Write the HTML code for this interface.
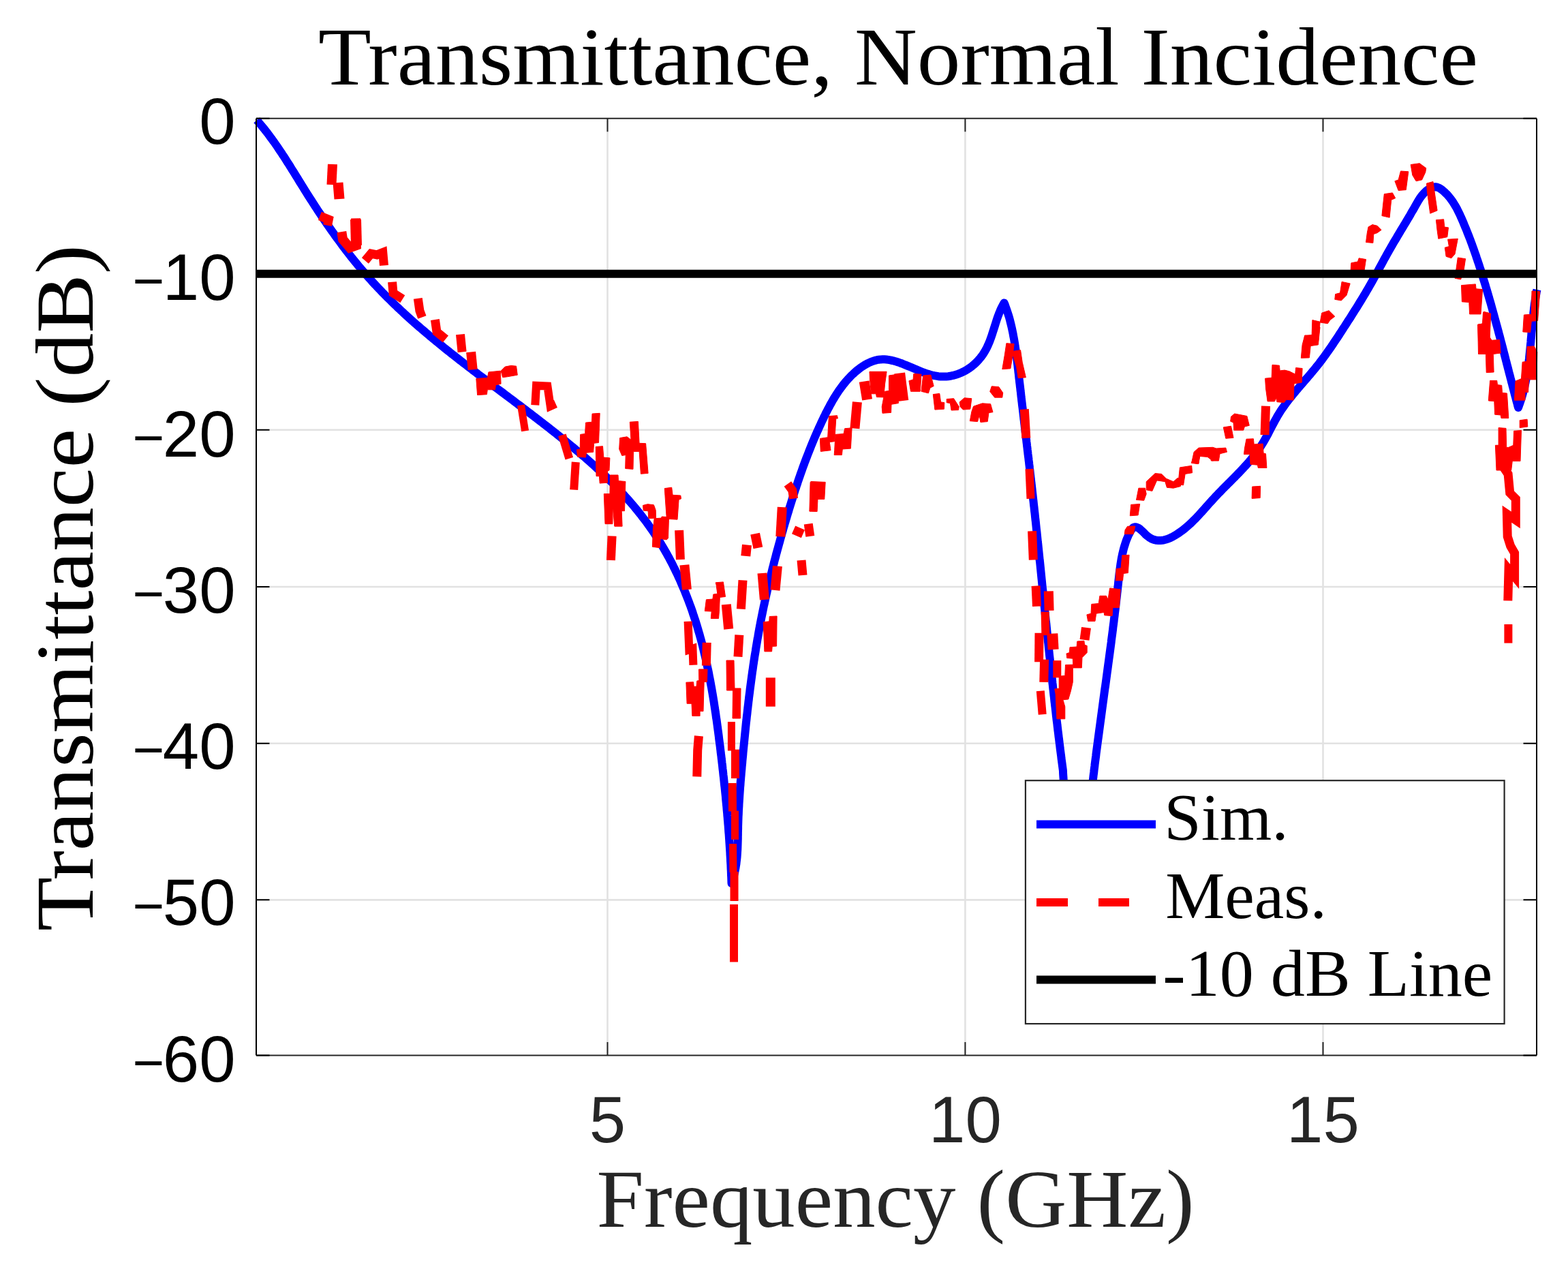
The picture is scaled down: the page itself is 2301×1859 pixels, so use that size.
<!DOCTYPE html>
<html><head><meta charset="utf-8"><title>Transmittance, Normal Incidence</title>
<style>
html,body{margin:0;padding:0;background:#fff;}
svg{display:block;}
.tk{font-family:"Liberation Sans",Arial,sans-serif;font-size:96px;}
.sf{font-family:"Liberation Serif","Times New Roman",serif;}
</style></head><body>
<svg width="2301" height="1859" viewBox="0 0 2301 1859">
<rect x="0" y="0" width="2301" height="1859" fill="#fff"/>
<!-- grid -->
<g id="grid" stroke="#e2e2e2" stroke-width="2.6" fill="none">
<path d="M891.5 174V1548M1416.4 174V1548M1941.5 174V1548"/>
<path d="M376 401.75H2255M376 630.7H2255M376 861.05H2255M376 1090.7H2255M376 1320.35H2255"/>
</g>
<!-- curves -->
<g id="curves">
<path d="M376.8 176.2 L378.8 178.4 L380.7 180.7 L382.6 183 L384.5 185.3 L386.4 187.6 L388.3 189.9 L390.1 192.3 L392 194.6 L393.8 197 L395.5 199.4 L397.3 201.8 L399.1 204.2 L400.8 206.6 L402.6 209 L404.3 211.5 L406 213.9 L407.7 216.4 L409.3 218.8 L411 221.3 L412.7 223.8 L414.3 226.3 L416 228.8 L417.6 231.3 L419.2 233.8 L420.8 236.4 L422.4 238.9 L424.1 241.4 L425.7 244 L427.2 246.5 L428.8 249.1 L430.4 251.6 L432 254.2 L433.6 256.7 L435.2 259.3 L436.8 261.8 L438.3 264.4 L439.9 267 L441.5 269.5 L443.1 272.1 L444.7 274.7 L446.3 277.2 L447.9 279.8 L449.5 282.4 L451.1 284.9 L452.7 287.5 L454.3 290 L456 292.6 L457.6 295.1 L459.2 297.7 L460.9 300.2 L462.5 302.7 L464.2 305.3 L465.8 307.8 L467.5 310.3 L469.2 312.9 L470.9 315.4 L472.5 317.9 L474.2 320.4 L475.9 322.9 L477.6 325.4 L479.3 327.9 L481.1 330.4 L482.8 332.9 L484.5 335.4 L486.3 337.8 L488 340.3 L489.8 342.8 L491.5 345.2 L493.3 347.7 L495.1 350.1 L496.9 352.6 L498.7 355 L500.5 357.4 L502.3 359.9 L504.1 362.3 L505.9 364.7 L507.7 367.1 L509.6 369.4 L511.4 371.8 L513.3 374.2 L515.1 376.6 L517 378.9 L518.9 381.3 L520.8 383.6 L522.7 385.9 L524.6 388.3 L526.5 390.6 L528.5 392.9 L530.4 395.2 L532.4 397.5 L534.3 399.7 L536.3 402 L538.3 404.2 L540.2 406.5 L542.2 408.7 L544.3 410.9 L546.3 413.2 L548.3 415.4 L550.3 417.6 L552.4 419.7 L554.4 421.9 L556.5 424.1 L558.6 426.2 L560.6 428.4 L562.7 430.5 L564.8 432.7 L566.9 434.8 L569 436.9 L571.2 439 L573.3 441.1 L575.4 443.2 L577.6 445.3 L579.7 447.4 L581.9 449.4 L584 451.5 L586.2 453.5 L588.4 455.6 L590.6 457.6 L592.8 459.7 L595 461.7 L597.2 463.7 L599.4 465.7 L601.6 467.7 L603.8 469.7 L606.1 471.7 L608.3 473.7 L610.6 475.7 L612.8 477.6 L615.1 479.6 L617.3 481.5 L619.6 483.5 L621.9 485.4 L624.2 487.4 L626.5 489.3 L628.8 491.3 L631 493.2 L633.4 495.1 L635.7 497 L638 498.9 L640.3 500.8 L642.6 502.7 L644.9 504.6 L647.3 506.5 L649.6 508.4 L651.9 510.3 L654.3 512.2 L656.6 514.1 L659 515.9 L661.3 517.8 L663.7 519.7 L666.1 521.5 L668.4 523.4 L670.8 525.3 L673.2 527.1 L675.5 529 L677.9 530.8 L680.3 532.7 L682.7 534.5 L685.1 536.3 L687.4 538.2 L689.8 540 L692.2 541.8 L694.6 543.7 L697 545.5 L699.4 547.3 L701.8 549.2 L704.2 551 L706.6 552.8 L709 554.6 L711.4 556.4 L713.9 558.3 L716.3 560.1 L718.7 561.9 L721.1 563.7 L723.5 565.5 L725.9 567.4 L728.3 569.2 L730.7 571 L733.2 572.8 L735.6 574.6 L738 576.4 L740.4 578.2 L742.8 580.1 L745.3 581.9 L747.7 583.7 L750.1 585.5 L752.5 587.3 L754.9 589.1 L757.3 591 L759.8 592.8 L762.2 594.6 L764.6 596.4 L767 598.3 L769.4 600.1 L771.8 601.9 L774.2 603.7 L776.6 605.6 L779 607.4 L781.4 609.2 L783.8 611.1 L786.2 612.9 L788.6 614.8 L791 616.6 L793.4 618.5 L795.8 620.3 L798.2 622.2 L800.6 624 L803 625.9 L805.4 627.7 L807.7 629.6 L810.1 631.5 L812.5 633.4 L814.9 635.2 L817.2 637.1 L819.6 639 L821.9 640.9 L824.3 642.8 L826.7 644.7 L829 646.6 L831.3 648.5 L833.7 650.4 L836 652.3 L838.4 654.3 L840.7 656.2 L843 658.1 L845.3 660.1 L847.6 662 L849.9 664 L852.2 665.9 L854.5 667.9 L856.8 669.8 L859.1 671.8 L861.3 673.8 L863.6 675.8 L865.9 677.8 L868.1 679.8 L870.4 681.8 L872.6 683.8 L874.8 685.8 L877 687.9 L879.2 689.9 L881.4 692 L883.6 694 L885.8 696.1 L888 698.2 L890.1 700.2 L892.3 702.3 L894.4 704.4 L896.6 706.5 L898.7 708.6 L900.8 710.8 L902.9 712.9 L905 715 L907 717.2 L909.1 719.4 L911.2 721.5 L913.2 723.7 L915.2 725.9 L917.2 728.1 L919.3 730.3 L921.2 732.5 L923.2 734.8 L925.2 737 L927.1 739.3 L929.1 741.5 L931 743.8 L932.9 746.1 L934.8 748.4 L936.7 750.7 L938.5 753 L940.4 755.4 L942.2 757.7 L944 760.1 L945.9 762.5 L947.6 764.8 L949.4 767.2 L951.2 769.7 L952.9 772.1 L954.6 774.5 L956.3 777 L958 779.4 L959.7 781.9 L961.4 784.4 L963 786.9 L964.6 789.4 L966.2 791.9 L967.8 794.5 L969.4 797 L970.9 799.6 L972.5 802.2 L974 804.8 L975.5 807.3 L977 810 L978.5 812.6 L979.9 815.2 L981.4 817.8 L982.8 820.5 L984.2 823.1 L985.6 825.8 L987 828.5 L988.3 831.2 L989.7 833.9 L991 836.6 L992.3 839.3 L993.6 842 L994.9 844.8 L996.1 847.5 L997.4 850.2 L998.6 853 L999.8 855.8 L1001 858.5 L1002.2 861.3 L1003.4 864.1 L1004.6 866.9 L1005.7 869.7 L1006.8 872.5 L1007.9 875.3 L1009 878.1 L1010.1 880.9 L1011.2 883.8 L1012.2 886.6 L1013.3 889.4 L1014.3 892.3 L1015.3 895.1 L1016.3 898 L1017.2 900.9 L1018.2 903.7 L1019.1 906.6 L1020.1 909.5 L1021 912.3 L1021.9 915.2 L1022.8 918.1 L1023.6 921 L1024.5 923.9 L1025.3 926.8 L1026.2 929.7 L1027 932.6 L1027.8 935.5 L1028.6 938.4 L1029.4 941.3 L1030.1 944.2 L1030.9 947.1 L1031.6 950 L1032.3 953 L1033 955.9 L1033.7 958.8 L1034.4 961.7 L1035.1 964.7 L1035.8 967.6 L1036.4 970.5 L1037.1 973.5 L1037.7 976.4 L1038.3 979.4 L1039 982.3 L1039.6 985.3 L1040.2 988.2 L1040.7 991.2 L1041.3 994.1 L1041.9 997.1 L1042.4 1000 L1043 1003 L1043.5 1006 L1044.1 1008.9 L1044.6 1011.9 L1045.1 1014.9 L1045.6 1017.8 L1046.1 1020.8 L1046.6 1023.8 L1047.1 1026.7 L1047.6 1029.7 L1048 1032.7 L1048.5 1035.7 L1048.9 1038.7 L1049.4 1041.6 L1049.8 1044.6 L1050.3 1047.6 L1050.7 1050.6 L1051.1 1053.6 L1051.6 1056.5 L1052 1059.5 L1052.4 1062.5 L1052.8 1065.5 L1053.2 1068.5 L1053.6 1071.5 L1054 1074.4 L1054.4 1077.4 L1054.8 1080.4 L1055.1 1083.4 L1055.5 1086.4 L1055.9 1089.4 L1056.3 1092.4 L1056.7 1095.4 L1057 1098.3 L1057.4 1101.3 L1057.7 1104.3 L1058.1 1107.3 L1058.5 1110.3 L1058.8 1113.3 L1059.2 1116.3 L1059.5 1119.2 L1059.9 1122.2 L1060.2 1125.2 L1060.5 1128.2 L1060.9 1131.2 L1061.2 1134.2 L1061.5 1137.2 L1061.9 1140.2 L1062.2 1143.1 L1062.5 1146.1 L1062.8 1149.1 L1063.1 1152.1 L1063.5 1155.1 L1063.8 1158.1 L1064.1 1161.1 L1064.4 1164.1 L1064.7 1167 L1065 1170 L1065.2 1173 L1065.5 1176 L1065.8 1179 L1066.1 1182 L1066.4 1185 L1066.6 1188 L1066.9 1191 L1067.2 1194 L1067.4 1197 L1067.7 1199.9 L1067.9 1202.9 L1068.2 1205.9 L1068.4 1208.9 L1068.7 1211.9 L1068.9 1214.9 L1069.1 1217.9 L1069.3 1220.9 L1069.6 1223.9 L1069.8 1226.9 L1070 1229.9 L1070.2 1232.9 L1070.4 1235.9 L1070.6 1238.9 L1070.8 1241.9 L1071 1244.9 L1071.2 1247.9 L1071.4 1250.9 L1071.5 1253.9 L1071.7 1256.9 L1071.9 1259.9 L1072 1262.9 L1072.2 1265.9 L1072.4 1268.9 L1072.5 1271.9 L1072.6 1274.9 L1072.8 1277.9 L1072.9 1280.9 L1073 1284 L1073.2 1287 L1073.3 1290 L1073.4 1293 L1073.5 1296 L1074.5 1293.2 L1075.4 1290.3 L1076.3 1287.4 L1077.1 1284.5 L1077.8 1281.6 L1078.4 1278.7 L1079 1275.8 L1079.6 1272.8 L1080 1269.9 L1080.5 1266.9 L1080.8 1264 L1081.2 1261 L1081.5 1258 L1081.7 1255 L1081.9 1252 L1082.1 1249 L1082.3 1246 L1082.4 1243 L1082.5 1240 L1082.6 1236.9 L1082.7 1233.9 L1082.8 1230.9 L1082.8 1227.9 L1082.9 1224.8 L1082.9 1221.8 L1083 1218.8 L1083.1 1215.7 L1083.1 1212.7 L1083.2 1209.7 L1083.3 1206.7 L1083.4 1203.6 L1083.5 1200.6 L1083.6 1197.6 L1083.8 1194.6 L1083.9 1191.6 L1084 1188.5 L1084.2 1185.5 L1084.4 1182.5 L1084.5 1179.5 L1084.7 1176.5 L1084.9 1173.5 L1085.1 1170.5 L1085.3 1167.4 L1085.5 1164.4 L1085.7 1161.4 L1085.9 1158.4 L1086.1 1155.4 L1086.4 1152.4 L1086.6 1149.4 L1086.8 1146.4 L1087.1 1143.4 L1087.3 1140.4 L1087.6 1137.4 L1087.8 1134.4 L1088.1 1131.4 L1088.4 1128.4 L1088.6 1125.4 L1088.9 1122.4 L1089.2 1119.4 L1089.4 1116.4 L1089.7 1113.4 L1090 1110.4 L1090.3 1107.4 L1090.5 1104.4 L1090.8 1101.4 L1091.1 1098.4 L1091.4 1095.4 L1091.7 1092.4 L1092 1089.4 L1092.3 1086.4 L1092.6 1083.4 L1092.9 1080.4 L1093.2 1077.4 L1093.5 1074.4 L1093.8 1071.4 L1094.1 1068.4 L1094.4 1065.4 L1094.7 1062.4 L1095 1059.4 L1095.4 1056.4 L1095.7 1053.4 L1096 1050.4 L1096.4 1047.4 L1096.7 1044.5 L1097 1041.5 L1097.4 1038.5 L1097.7 1035.5 L1098.1 1032.5 L1098.4 1029.5 L1098.8 1026.5 L1099.1 1023.5 L1099.5 1020.5 L1099.9 1017.5 L1100.3 1014.5 L1100.6 1011.6 L1101 1008.6 L1101.4 1005.6 L1101.8 1002.6 L1102.2 999.6 L1102.6 996.6 L1103 993.6 L1103.4 990.6 L1103.8 987.7 L1104.2 984.7 L1104.7 981.7 L1105.1 978.7 L1105.5 975.7 L1106 972.8 L1106.4 969.8 L1106.9 966.8 L1107.3 963.8 L1107.8 960.8 L1108.3 957.9 L1108.8 954.9 L1109.2 951.9 L1109.7 948.9 L1110.2 946 L1110.7 943 L1111.2 940 L1111.7 937 L1112.3 934.1 L1112.8 931.1 L1113.3 928.1 L1113.8 925.2 L1114.4 922.2 L1114.9 919.2 L1115.5 916.3 L1116.1 913.3 L1116.6 910.3 L1117.2 907.4 L1117.8 904.4 L1118.4 901.5 L1119 898.5 L1119.6 895.5 L1120.2 892.6 L1120.8 889.6 L1121.5 886.7 L1122.1 883.7 L1122.8 880.8 L1123.4 877.8 L1124.1 874.9 L1124.7 871.9 L1125.4 869 L1126 866 L1126.7 863.1 L1127.4 860.1 L1128.1 857.2 L1128.8 854.2 L1129.5 851.3 L1130.2 848.4 L1130.9 845.4 L1131.6 842.5 L1132.4 839.6 L1133.1 836.6 L1133.8 833.7 L1134.6 830.8 L1135.3 827.9 L1136.1 824.9 L1136.8 822 L1137.6 819.1 L1138.4 816.2 L1139.1 813.2 L1139.9 810.3 L1140.7 807.4 L1141.5 804.5 L1142.3 801.6 L1143.1 798.7 L1143.9 795.8 L1144.7 792.9 L1145.5 790 L1146.3 787.1 L1147.1 784.2 L1147.9 781.3 L1148.8 778.4 L1149.6 775.5 L1150.4 772.6 L1151.3 769.7 L1152.1 766.9 L1153 764 L1153.8 761.1 L1154.7 758.2 L1155.5 755.3 L1156.4 752.5 L1157.3 749.6 L1158.1 746.7 L1159 743.9 L1159.9 741 L1160.8 738.2 L1161.7 735.3 L1162.6 732.4 L1163.5 729.6 L1164.4 726.7 L1165.3 723.9 L1166.2 721 L1167.1 718.2 L1168.1 715.4 L1169 712.5 L1170 709.7 L1170.9 706.8 L1171.9 704 L1172.8 701.2 L1173.8 698.4 L1174.8 695.5 L1175.8 692.7 L1176.8 689.9 L1177.8 687.1 L1178.8 684.2 L1179.9 681.4 L1180.9 678.6 L1182 675.8 L1183 673 L1184.1 670.2 L1185.2 667.4 L1186.3 664.6 L1187.4 661.8 L1188.5 659 L1189.6 656.2 L1190.7 653.4 L1191.9 650.6 L1193 647.8 L1194.2 645 L1195.4 642.2 L1196.6 639.4 L1197.8 636.6 L1199 633.8 L1200.3 631.1 L1201.5 628.3 L1202.8 625.5 L1204.1 622.7 L1205.3 620 L1206.6 617.2 L1208 614.4 L1209.3 611.6 L1210.7 608.9 L1212 606.1 L1213.4 603.4 L1214.8 600.6 L1216.3 597.9 L1217.7 595.2 L1219.2 592.5 L1220.7 589.8 L1222.2 587.1 L1223.8 584.5 L1225.4 581.9 L1227 579.3 L1228.7 576.7 L1230.4 574.2 L1232.1 571.7 L1233.9 569.2 L1235.7 566.8 L1237.5 564.4 L1239.4 562.1 L1241.3 559.7 L1243.3 557.5 L1245.3 555.3 L1247.4 553.1 L1249.5 550.9 L1251.7 548.9 L1253.9 546.8 L1256.1 544.9 L1258.4 543 L1260.8 541.1 L1263.2 539.3 L1265.7 537.6 L1268.2 536 L1270.8 534.5 L1273.4 533.1 L1276 531.9 L1278.7 530.7 L1281.3 529.8 L1284.1 528.9 L1286.8 528.2 L1289.6 527.7 L1292.3 527.4 L1295.1 527.3 L1297.9 527.3 L1300.8 527.5 L1303.6 527.9 L1306.4 528.4 L1309.3 529 L1312.2 529.7 L1315.1 530.5 L1318 531.4 L1320.9 532.5 L1323.8 533.5 L1326.7 534.7 L1329.6 535.9 L1332.6 537.1 L1335.5 538.3 L1338.5 539.6 L1341.4 540.8 L1344.4 542.1 L1347.3 543.3 L1350.3 544.5 L1353.3 545.7 L1356.2 546.8 L1359.2 547.9 L1362.1 548.8 L1365.1 549.7 L1368.1 550.5 L1371 551.2 L1374 551.7 L1376.9 552.2 L1379.9 552.4 L1382.8 552.6 L1385.7 552.6 L1388.6 552.4 L1391.5 552.2 L1394.4 551.8 L1397.2 551.2 L1400.1 550.6 L1402.8 549.8 L1405.6 548.9 L1408.3 547.8 L1411 546.7 L1413.6 545.4 L1416.2 544.1 L1418.7 542.6 L1421.2 541 L1423.6 539.3 L1426 537.6 L1428.3 535.7 L1430.5 533.7 L1432.7 531.7 L1434.8 529.6 L1436.8 527.3 L1438.7 525 L1440.5 522.7 L1442.3 520.2 L1443.9 517.7 L1445.5 515.1 L1447 512.4 L1448.4 509.7 L1449.7 506.9 L1450.9 504.1 L1452.1 501.3 L1453.2 498.4 L1454.3 495.4 L1455.3 492.5 L1456.3 489.5 L1457.2 486.5 L1458.2 483.5 L1459.1 480.6 L1460.1 477.6 L1461 474.6 L1461.9 471.7 L1462.9 468.7 L1463.9 465.8 L1464.9 463 L1466 460.1 L1467.1 457.4 L1468.2 454.6 L1469.5 452 L1470.8 449.4 L1472.1 446.9 L1473.6 444.4 L1474.7 447.1 L1475.7 449.9 L1476.7 452.7 L1477.7 455.5 L1478.6 458.3 L1479.5 461.1 L1480.4 463.9 L1481.2 466.7 L1482 469.6 L1482.7 472.5 L1483.4 475.3 L1484.1 478.2 L1484.8 481.1 L1485.4 484 L1486 486.9 L1486.6 489.8 L1487.1 492.8 L1487.7 495.7 L1488.2 498.6 L1488.7 501.6 L1489.2 504.5 L1489.6 507.5 L1490.1 510.5 L1490.5 513.4 L1490.9 516.4 L1491.3 519.4 L1491.7 522.4 L1492.1 525.4 L1492.4 528.3 L1492.8 531.3 L1493.1 534.3 L1493.5 537.3 L1493.8 540.3 L1494.2 543.3 L1494.5 546.3 L1494.9 549.3 L1495.2 552.3 L1495.5 555.3 L1495.9 558.3 L1496.2 561.3 L1496.6 564.3 L1496.9 567.3 L1497.3 570.3 L1497.6 573.3 L1498 576.3 L1498.3 579.3 L1498.6 582.3 L1499 585.3 L1499.3 588.3 L1499.7 591.3 L1500 594.3 L1500.4 597.3 L1500.8 600.3 L1501.1 603.3 L1501.5 606.3 L1501.8 609.3 L1502.2 612.3 L1502.5 615.3 L1502.9 618.3 L1503.2 621.3 L1503.6 624.3 L1503.9 627.3 L1504.3 630.3 L1504.6 633.3 L1505 636.3 L1505.4 639.3 L1505.7 642.2 L1506.1 645.2 L1506.4 648.2 L1506.8 651.2 L1507.1 654.2 L1507.5 657.2 L1507.8 660.2 L1508.2 663.2 L1508.5 666.2 L1508.9 669.2 L1509.3 672.2 L1509.6 675.2 L1510 678.2 L1510.3 681.2 L1510.7 684.2 L1511 687.2 L1511.4 690.1 L1511.7 693.1 L1512 696.1 L1512.4 699.1 L1512.7 702.1 L1513.1 705.1 L1513.4 708.1 L1513.8 711.1 L1514.1 714.1 L1514.5 717.1 L1514.8 720.1 L1515.1 723.1 L1515.5 726.1 L1515.8 729.1 L1516.1 732.1 L1516.5 735.1 L1516.8 738 L1517.1 741 L1517.5 744 L1517.8 747 L1518.1 750 L1518.5 753 L1518.8 756 L1519.1 759 L1519.4 762 L1519.8 765 L1520.1 768 L1520.4 771 L1520.7 774 L1521 777 L1521.4 780 L1521.7 783 L1522 786 L1522.3 789 L1522.6 792 L1522.9 795 L1523.3 798 L1523.6 801 L1523.9 804 L1524.2 807 L1524.5 809.9 L1524.8 812.9 L1525.1 815.9 L1525.4 818.9 L1525.7 821.9 L1526.1 824.9 L1526.4 827.9 L1526.7 830.9 L1527 833.9 L1527.3 836.9 L1527.6 839.9 L1527.9 842.9 L1528.2 845.9 L1528.5 848.9 L1528.8 851.9 L1529.1 854.9 L1529.4 857.9 L1529.7 860.9 L1530 863.9 L1530.4 866.9 L1530.7 869.9 L1531 872.9 L1531.3 875.9 L1531.6 878.9 L1531.9 881.9 L1532.2 884.9 L1532.5 887.9 L1532.8 890.9 L1533.1 893.9 L1533.4 896.9 L1533.7 899.9 L1534 902.9 L1534.3 905.9 L1534.6 908.9 L1534.9 911.9 L1535.3 914.8 L1535.6 917.8 L1535.9 920.8 L1536.2 923.8 L1536.5 926.8 L1536.8 929.8 L1537.1 932.8 L1537.4 935.8 L1537.7 938.8 L1538 941.8 L1538.4 944.8 L1538.7 947.8 L1539 950.8 L1539.3 953.8 L1539.6 956.8 L1539.9 959.8 L1540.2 962.8 L1540.6 965.8 L1540.9 968.8 L1541.2 971.8 L1541.5 974.8 L1541.8 977.8 L1542.2 980.8 L1542.5 983.8 L1542.8 986.8 L1543.1 989.8 L1543.5 992.8 L1543.8 995.7 L1544.1 998.7 L1544.4 1001.7 L1544.8 1004.7 L1545.1 1007.7 L1545.4 1010.7 L1545.8 1013.7 L1546.1 1016.7 L1546.4 1019.7 L1546.8 1022.7 L1547.1 1025.7 L1547.4 1028.7 L1547.8 1031.7 L1548.1 1034.7 L1548.5 1037.7 L1548.8 1040.7 L1549.2 1043.7 L1549.5 1046.7 L1549.8 1049.6 L1550.2 1052.6 L1550.5 1055.6 L1550.9 1058.6 L1551.3 1061.6 L1551.6 1064.6 L1552 1067.6 L1552.3 1070.6 L1552.7 1073.6 L1553.1 1076.6 L1553.4 1079.6 L1553.8 1082.6 L1554.2 1085.6 L1554.5 1088.5 L1554.9 1091.5 L1555.3 1094.5 L1555.6 1097.5 L1556 1100.5 L1556.4 1103.5 L1556.8 1106.5 L1557.2 1109.5 L1557.5 1112.5 L1557.9 1115.5 L1558.3 1118.4 L1558.7 1121.4 L1559.1 1124.4 L1559.5 1127.4 L1559.9 1130.4 L1560 1132.8 L1560.1 1135.4 L1560.3 1138.2 L1560.5 1141.2 L1560.7 1144.3 L1560.9 1147.6 L1561.2 1151.1 L1561.4 1154.7 L1561.8 1158.3 L1562.1 1162.1 L1562.4 1166 L1562.8 1169.9 L1563.2 1173.9 L1563.6 1178 L1564.1 1182 L1564.5 1186.1 L1565 1190.2 L1565.5 1194.2 L1566 1198.2 L1566.6 1202.2 L1567.1 1206.1 L1567.7 1209.9 L1568.3 1213.6 L1568.9 1217.3 L1569.5 1220.8 L1570.1 1224.1 L1570.8 1227.4 L1571.4 1230.4 L1572.1 1233.3 L1572.8 1236 L1573.5 1238.5 L1574.2 1240.7 L1574.9 1242.7 L1575.7 1244.5 L1576.4 1246 L1577.2 1247.2 L1577.9 1248.1 L1578.7 1248.8 L1579.5 1249 L1580.2 1249 L1581 1248.6 L1581.8 1247.9 L1582.6 1246.9 L1583.4 1245.5 L1584.2 1243.9 L1585 1242 L1585.8 1239.9 L1586.6 1237.6 L1587.4 1235 L1588.2 1232.2 L1589 1229.3 L1589.8 1226.2 L1590.6 1222.9 L1591.4 1219.5 L1592.1 1215.9 L1592.9 1212.3 L1593.6 1208.6 L1594.3 1204.8 L1595.1 1200.9 L1595.8 1197 L1596.4 1193.1 L1597.1 1189.2 L1597.8 1185.3 L1598.4 1181.4 L1599 1177.6 L1599.6 1173.8 L1600.2 1170 L1600.7 1166.4 L1601.2 1162.9 L1601.7 1159.5 L1602.2 1156.2 L1602.6 1153.1 L1603.1 1150.1 L1603.4 1147.4 L1603.8 1144.8 L1604.2 1141.8 L1604.5 1138.8 L1604.9 1135.8 L1605.3 1132.7 L1605.6 1129.7 L1606 1126.7 L1606.4 1123.7 L1606.7 1120.7 L1607.1 1117.7 L1607.5 1114.7 L1607.9 1111.7 L1608.3 1108.7 L1608.6 1105.7 L1609 1102.8 L1609.4 1099.8 L1609.8 1096.8 L1610.2 1093.8 L1610.6 1090.8 L1611 1087.8 L1611.4 1084.8 L1611.8 1081.9 L1612.2 1078.9 L1612.6 1075.9 L1613 1072.9 L1613.4 1069.9 L1613.8 1067 L1614.2 1064 L1614.6 1061 L1615 1058 L1615.4 1055.1 L1615.8 1052.1 L1616.2 1049.1 L1616.6 1046.2 L1617 1043.2 L1617.4 1040.2 L1617.8 1037.3 L1618.2 1034.3 L1618.6 1031.3 L1619 1028.4 L1619.4 1025.4 L1619.8 1022.4 L1620.2 1019.5 L1620.6 1016.5 L1621 1013.5 L1621.4 1010.6 L1621.9 1007.6 L1622.3 1004.6 L1622.7 1001.7 L1623.1 998.7 L1623.5 995.7 L1623.9 992.8 L1624.3 989.8 L1624.7 986.8 L1625.1 983.9 L1625.5 980.9 L1625.9 977.9 L1626.3 974.9 L1626.7 972 L1627.1 969 L1627.5 966 L1627.9 963.1 L1628.3 960.1 L1628.7 957.1 L1629.1 954.1 L1629.5 951.1 L1629.9 948.2 L1630.3 945.2 L1630.7 942.2 L1631 939.2 L1631.4 936.2 L1631.8 933.3 L1632.2 930.3 L1632.6 927.3 L1633 924.3 L1633.3 921.3 L1633.7 918.3 L1634.1 915.3 L1634.5 912.3 L1634.8 909.3 L1635.2 906.3 L1635.6 903.3 L1635.9 900.3 L1636.3 897.3 L1636.7 894.3 L1637 891.3 L1637.4 888.2 L1637.7 885.2 L1638.1 882.2 L1638.4 879.2 L1638.8 876.2 L1639.1 873.1 L1639.4 870.1 L1639.8 867.1 L1640.1 864 L1640.4 861 L1640.8 858 L1641.1 854.9 L1641.4 851.9 L1641.8 848.8 L1642.1 845.8 L1642.4 842.8 L1642.8 839.7 L1643.2 836.7 L1643.6 833.7 L1644 830.7 L1644.4 827.7 L1644.9 824.7 L1645.4 821.7 L1645.9 818.8 L1646.5 815.9 L1647.1 813 L1647.8 810.1 L1648.5 807.2 L1649.2 804.4 L1650 801.6 L1650.9 798.8 L1651.8 796 L1652.7 793.3 L1653.8 790.6 L1654.9 788 L1656 785.3 L1657.3 782.8 L1658.6 780.2 L1660 777.7 L1661.6 775.5 L1663.3 773.9 L1665.5 773.2 L1667.8 773.5 L1670.3 774.5 L1672.9 776.3 L1675.5 778.7 L1678.2 781.2 L1680.8 783.9 L1683.5 786.3 L1686.2 788.3 L1688.9 790 L1691.6 791.3 L1694.4 792.2 L1697.1 792.8 L1699.9 793.1 L1702.7 793.1 L1705.5 792.8 L1708.3 792.3 L1711.2 791.5 L1714 790.6 L1716.8 789.5 L1719.5 788.2 L1722.3 786.7 L1725 785.1 L1727.6 783.5 L1730.2 781.7 L1732.8 779.9 L1735.3 778.1 L1737.7 776.2 L1740.1 774.3 L1742.4 772.3 L1744.7 770.3 L1746.9 768.3 L1749.1 766.2 L1751.2 764.1 L1753.3 762 L1755.4 759.9 L1757.5 757.7 L1759.5 755.5 L1761.5 753.3 L1763.5 751.1 L1765.5 748.9 L1767.5 746.7 L1769.4 744.5 L1771.4 742.2 L1773.4 740 L1775.4 737.8 L1777.4 735.6 L1779.4 733.4 L1781.4 731.2 L1783.4 729 L1785.5 726.8 L1787.6 724.6 L1789.7 722.5 L1791.8 720.3 L1793.9 718.1 L1796 716 L1798.2 713.8 L1800.3 711.7 L1802.4 709.6 L1804.6 707.4 L1806.7 705.3 L1808.8 703.1 L1811 701 L1813.1 698.8 L1815.2 696.7 L1817.3 694.5 L1819.4 692.3 L1821.5 690.1 L1823.6 687.9 L1825.6 685.7 L1827.7 683.5 L1829.7 681.2 L1831.7 679 L1833.6 676.7 L1835.6 674.4 L1837.5 672.1 L1839.3 669.8 L1841.2 667.4 L1843 665.1 L1844.8 662.7 L1846.5 660.3 L1848.2 657.8 L1849.9 655.3 L1851.5 652.8 L1853.1 650.3 L1854.6 647.7 L1856.1 645.2 L1857.6 642.6 L1859 639.9 L1860.5 637.3 L1861.8 634.6 L1863.2 632 L1864.6 629.3 L1866 626.6 L1867.4 624 L1868.8 621.3 L1870.2 618.7 L1871.6 616 L1873.1 613.4 L1874.5 610.8 L1876.1 608.3 L1877.6 605.7 L1879.2 603.2 L1880.9 600.7 L1882.6 598.3 L1884.3 595.8 L1886 593.4 L1887.8 591 L1889.6 588.6 L1891.4 586.2 L1893.3 583.9 L1895.2 581.6 L1897 579.2 L1899 576.9 L1900.9 574.6 L1902.8 572.3 L1904.8 570 L1906.7 567.7 L1908.7 565.4 L1910.7 563.2 L1912.6 560.9 L1914.6 558.6 L1916.6 556.3 L1918.6 554 L1920.5 551.7 L1922.5 549.5 L1924.4 547.1 L1926.4 544.8 L1928.3 542.5 L1930.2 540.2 L1932.1 537.8 L1934 535.5 L1935.9 533.1 L1937.7 530.7 L1939.5 528.3 L1941.3 525.9 L1943.1 523.5 L1944.9 521 L1946.6 518.6 L1948.4 516.1 L1950.1 513.6 L1951.8 511.2 L1953.6 508.7 L1955.3 506.2 L1956.9 503.7 L1958.6 501.2 L1960.3 498.7 L1962 496.2 L1963.6 493.7 L1965.3 491.1 L1966.9 488.6 L1968.6 486.1 L1970.2 483.6 L1971.8 481 L1973.5 478.5 L1975.1 476 L1976.7 473.5 L1978.3 470.9 L1980 468.4 L1981.6 465.9 L1983.2 463.3 L1984.8 460.8 L1986.4 458.3 L1988 455.7 L1989.6 453.2 L1991.2 450.7 L1992.8 448.1 L1994.3 445.6 L1995.9 443 L1997.5 440.5 L1999 437.9 L2000.6 435.3 L2002.1 432.7 L2003.7 430.2 L2005.2 427.6 L2006.7 425 L2008.2 422.4 L2009.7 419.8 L2011.2 417.2 L2012.7 414.5 L2014.2 411.9 L2015.6 409.3 L2017.1 406.6 L2018.6 404 L2020 401.3 L2021.5 398.7 L2022.9 396 L2024.3 393.4 L2025.8 390.7 L2027.2 388.1 L2028.6 385.4 L2030.1 382.8 L2031.5 380.1 L2033 377.5 L2034.4 374.9 L2035.9 372.2 L2037.4 369.6 L2038.8 367 L2040.3 364.4 L2041.8 361.8 L2043.3 359.2 L2044.8 356.6 L2046.3 354 L2047.9 351.5 L2049.4 348.9 L2050.9 346.3 L2052.4 343.8 L2054 341.2 L2055.5 338.6 L2057.1 336.1 L2058.6 333.5 L2060.1 330.9 L2061.7 328.3 L2063.2 325.8 L2064.8 323.2 L2066.3 320.6 L2067.9 318 L2069.4 315.4 L2070.9 312.7 L2072.4 310.1 L2074 307.5 L2075.5 304.8 L2077 302.1 L2078.5 299.5 L2080 296.8 L2081.6 294.2 L2083.2 291.6 L2085 289.1 L2086.8 286.7 L2088.8 284.3 L2090.9 282.1 L2093.2 280 L2095.6 278.1 L2098.3 276.5 L2101 275.2 L2103.8 274.4 L2106.5 274.2 L2109.2 274.7 L2111.9 275.8 L2114.4 277.4 L2116.9 279.2 L2119.2 281.2 L2121.4 283.3 L2123.6 285.4 L2125.6 287.7 L2127.5 290 L2129.3 292.4 L2131.1 294.8 L2132.7 297.3 L2134.3 299.9 L2135.9 302.5 L2137.4 305.1 L2138.8 307.8 L2140.1 310.5 L2141.5 313.2 L2142.8 316 L2144 318.8 L2145.3 321.6 L2146.5 324.4 L2147.7 327.2 L2148.8 330 L2150 332.8 L2151.2 335.6 L2152.3 338.4 L2153.4 341.2 L2154.5 344 L2155.6 346.8 L2156.7 349.6 L2157.8 352.4 L2158.8 355.2 L2159.9 358.1 L2160.9 360.9 L2161.9 363.7 L2162.9 366.5 L2163.9 369.4 L2164.9 372.2 L2165.9 375 L2166.8 377.9 L2167.8 380.7 L2168.7 383.6 L2169.7 386.4 L2170.6 389.2 L2171.5 392.1 L2172.5 394.9 L2173.4 397.8 L2174.3 400.7 L2175.2 403.5 L2176.1 406.4 L2176.9 409.3 L2177.8 412.1 L2178.7 415 L2179.6 417.9 L2180.4 420.7 L2181.3 423.6 L2182.1 426.5 L2183 429.4 L2183.8 432.3 L2184.7 435.2 L2185.5 438.1 L2186.3 440.9 L2187.2 443.8 L2188 446.7 L2188.8 449.6 L2189.6 452.5 L2190.4 455.4 L2191.2 458.3 L2192 461.2 L2192.8 464.1 L2193.6 467 L2194.4 470 L2195.2 472.9 L2196 475.8 L2196.8 478.7 L2197.6 481.6 L2198.4 484.5 L2199.1 487.4 L2199.9 490.3 L2200.7 493.2 L2201.5 496.2 L2202.2 499.1 L2203 502 L2203.8 504.9 L2204.5 507.8 L2205.3 510.7 L2206 513.7 L2206.8 516.6 L2207.6 519.5 L2208.3 522.4 L2209.1 525.3 L2209.8 528.2 L2210.6 531.2 L2211.3 534.1 L2212.1 537 L2212.8 539.9 L2213.6 542.8 L2214.3 545.7 L2215.1 548.7 L2215.9 551.6 L2216.6 554.5 L2217.4 557.4 L2218.1 560.3 L2218.9 563.2 L2219.6 566.1 L2220.4 569 L2221.1 571.9 L2221.9 574.8 L2222.6 577.7 L2223.4 580.6 L2224.2 583.5 L2224.9 586.4 L2225.7 589.3 L2226.5 592.2 L2227.2 595.1 L2228 598 L2229.1 595.1 L2230.1 592.2 L2231.1 589.3 L2232.1 586.4 L2233 583.5 L2233.9 580.5 L2234.7 577.6 L2235.5 574.6 L2236.2 571.6 L2237 568.7 L2237.6 565.7 L2238.3 562.7 L2238.9 559.7 L2239.5 556.7 L2240 553.6 L2240.6 550.6 L2241.1 547.6 L2241.5 544.5 L2242 541.5 L2242.4 538.4 L2242.8 535.4 L2243.2 532.3 L2243.6 529.3 L2244 526.2 L2244.3 523.1 L2244.6 520 L2244.9 517 L2245.2 513.9 L2245.5 510.8 L2245.8 507.7 L2246.1 504.6 L2246.4 501.5 L2246.6 498.4 L2246.9 495.3 L2247.2 492.3 L2247.4 489.2 L2247.7 486.1 L2248 483 L2248.2 479.9 L2248.5 476.8 L2248.8 473.7 L2249.1 470.7 L2249.4 467.6 L2249.7 464.5 L2250.1 461.4 L2250.4 458.4 L2250.8 455.3 L2251.1 452.2 L2251.5 449.2 L2251.9 446.1 L2252.4 443.1 L2252.8 440.1 L2253.3 437 L2253.8 434 L2254.4 431 L2254.9 428 L2255.5 425" fill="none" stroke="#0000ff" stroke-width="12" stroke-linejoin="round" stroke-linecap="butt"/>
<g fill="#ff0000" stroke="#ff0000">
<path d="M488 241 L486.5 271" fill="none" stroke-width="14" stroke-linejoin="miter" stroke-linecap="butt"/>
<path d="M496 268 L498 292" fill="none" stroke-width="15" stroke-linejoin="miter" stroke-linecap="butt"/>
<path d="M469.4 316.9 L482.3 322.1 L480.6 330.7" fill="none" stroke-width="13" stroke-linejoin="miter" stroke-linecap="butt"/>
<path d="M501.3 340.2 L503.1 351.4 L513.4 363.5 L522.9 360.1 L522.1 320.3" fill="none" stroke-width="14" stroke-linejoin="miter" stroke-linecap="butt"/>
<path d="M522 322 L523 360" fill="none" stroke-width="16" stroke-linejoin="miter" stroke-linecap="butt"/>
<path d="M535.9 382.5 L544.5 372.2 L553.2 373.9 L561.8 370.5 L563.5 389.5" fill="none" stroke-width="13" stroke-linejoin="miter" stroke-linecap="butt"/>
<path d="M575.6 413.7 L577 430.1 L590.8 438.8" fill="none" stroke-width="13" stroke-linejoin="miter" stroke-linecap="butt"/>
<path d="M613.3 437.9 L615.9 456 L619.4 465.5" fill="none" stroke-width="13" stroke-linejoin="miter" stroke-linecap="butt"/>
<path d="M638.4 469 L641 487.1 L653.9 497.5" fill="none" stroke-width="13" stroke-linejoin="miter" stroke-linecap="butt"/>
<path d="M675.5 490.6 L678.1 516.5" fill="none" stroke-width="13" stroke-linejoin="miter" stroke-linecap="butt"/>
<path d="M691.1 516.5 L693.7 542.4" fill="none" stroke-width="14" stroke-linejoin="miter" stroke-linecap="butt"/>
<polygon points="698.8,555.4 715.3,554.5 717,545.9 734.3,544.2 735.1,563.2 727.4,564.9 726.5,571.8 715.3,571.8 714.4,578.7 700.6,579.6" stroke-width="1"/>
<polygon points="735.1,544.2 741.2,538.1 749.8,536.4 757.6,537.2 759.3,550.2 744.6,552.8 737.7,553.7" stroke-width="1"/>
<path d="M764.5 594.3 L770.6 632.3" fill="none" stroke-width="11" stroke-linejoin="miter" stroke-linecap="butt"/>
<path d="M785.3 594.3 L787 565.8 L803.4 566.6 L807.7 596 L815.5 592.5" fill="none" stroke-width="12" stroke-linejoin="miter" stroke-linecap="butt"/>
<path d="M824.9 638.2 L835.3 672.8" fill="none" stroke-width="12" stroke-linejoin="miter" stroke-linecap="butt"/>
<path d="M844.8 678 L842.2 718.6" fill="none" stroke-width="12" stroke-linejoin="miter" stroke-linecap="butt"/>
<polygon points="846.5,659.8 851.2,659 851.7,637.4 858.6,636.5 859.5,620.1 868.5,619.2 869,607.1 880.2,606.3 878.5,649.5 871.6,650.3 870.7,663.3 860.4,664.2 859.5,671.1 847.4,670.2" stroke-width="1"/>
<polygon points="874.2,655.5 884.5,654.7 885.8,671.1 894.9,671.9 894,690.1 891.5,690.9 891.5,708.2 880.2,709.1 879.4,698.7 875,698.7" stroke-width="1"/>
<polygon points="886.3,724.6 894.9,724.6 895.4,697 907,697 907.5,705.6 917.9,706.5 916.5,749.7 912.2,749.7 913.1,772.2 901.8,772.2 899.2,741.9 898.9,768.7 888,768.7" stroke-width="1"/>
<polygon points="924.3,619.2 936.4,618.4 938.1,650.3 947.6,650.7 951.1,694.4 940.4,695.3 938.1,662.4 929.5,662.4 929,688.4 917.7,687.5 918.2,667.6 912.7,668.5 908.7,659 909.6,642.6 920,640.8 926,645.2" stroke-width="1"/>
<path d="M898.1 786.5 L896.4 822" fill="none" stroke-width="13" stroke-linejoin="miter" stroke-linecap="butt"/>
<polygon points="943.5,741.5 950.4,739.7 959.4,740.8 962.2,748.4 962.5,760.1 951.8,760.8 951.1,749.8 944.2,749.1" stroke-width="1"/>
<polygon points="960.1,760.8 970.5,760.1 971.2,758 981.5,758.7 980.5,789.8 978.1,791.9 969.1,790.5 968.4,803.7 957.4,802.3 958.4,776" stroke-width="1"/>
<polygon points="975.3,716.6 985.7,715.2 987.1,726.3 998.8,727 999.5,731.8 996.1,733.2 994,762.2 981.5,761.5 978.1,758 976,727.6" stroke-width="1"/>
<path d="M996.6 777.9 L998.4 821.1" fill="none" stroke-width="13" stroke-linejoin="miter" stroke-linecap="butt"/>
<path d="M1004.4 828.9 L1007.9 865.2" fill="none" stroke-width="14" stroke-linejoin="miter" stroke-linecap="butt"/>
<path d="M1009.6 911.8 L1011.3 953.3 L1016.5 951.6 L1017.4 975.7" fill="none" stroke-width="12" stroke-linejoin="miter" stroke-linecap="butt"/>
<path d="M1037.2 942.9 L1036.4 976.6" fill="none" stroke-width="13" stroke-linejoin="miter" stroke-linecap="butt"/>
<polygon points="1025.5,982 1038,982 1037.5,1000.4 1033.2,1000.4 1032,1043.6 1027.1,1043.6 1027.1,1050.5 1015.9,1050.5 1015,1032.3 1008.1,1032.3 1006.9,1001.2 1017.6,1000.7 1018.2,1007.3 1022,1007.3 1022.8,999 1025.8,998.6" stroke-width="1"/>
<polygon points="1050.2,854.8 1061.4,853.9 1064.5,875.5 1056.3,876.4 1055.4,897.1 1054.5,907.5 1043.3,907.5 1044.2,897.1 1034.3,896.6 1036.4,879.8 1045.9,879 1046.8,872.1 1052.8,871.2 1051.1,858.2" stroke-width="1"/>
<path d="M1065.8 886.8 L1069.2 923" fill="none" stroke-width="14" stroke-linejoin="miter" stroke-linecap="butt"/>
<path d="M1090 851.3 L1087.4 893.7" fill="none" stroke-width="13" stroke-linejoin="miter" stroke-linecap="butt"/>
<path d="M1084.8 931.7 L1083 963.6" fill="none" stroke-width="13" stroke-linejoin="miter" stroke-linecap="butt"/>
<polygon points="1066,969 1077,969 1078,1010 1087,1010 1086.5,1054 1075,1054 1075.5,1013 1066.5,1013" stroke-width="1"/>
<path d="M1096 799.5 L1094.3 815.9" fill="none" stroke-width="14" stroke-linejoin="miter" stroke-linecap="butt"/>
<path d="M1108.1 783.1 L1112.4 803.8" fill="none" stroke-width="14" stroke-linejoin="miter" stroke-linecap="butt"/>
<path d="M1118.5 841 L1121.9 879.8" fill="none" stroke-width="14" stroke-linejoin="miter" stroke-linecap="butt"/>
<path d="M1140.9 830.6 L1137.5 866" fill="none" stroke-width="14" stroke-linejoin="miter" stroke-linecap="butt"/>
<polygon points="1120.2,912.7 1128.8,911.8 1129.2,904.5 1140.1,904 1139.6,948.1 1133.2,948.4 1132.6,955.9 1121.9,955.9" stroke-width="1"/>
<path d="M1130.8 994.3 L1130.8 1036.7" fill="none" stroke-width="14" stroke-linejoin="miter" stroke-linecap="butt"/>
<path d="M1147.8 744.2 L1145.3 787.4" fill="none" stroke-width="14" stroke-linejoin="miter" stroke-linecap="butt"/>
<path d="M1164.6 777.4 L1178.4 783.4" fill="none" stroke-width="13" stroke-linejoin="miter" stroke-linecap="butt"/>
<path d="M1186.2 768.7 L1188.8 786.9" fill="none" stroke-width="13" stroke-linejoin="miter" stroke-linecap="butt"/>
<path d="M1176 822 L1178 844" fill="none" stroke-width="13" stroke-linejoin="miter" stroke-linecap="butt"/>
<path d="M1073.4 1059.1 L1073.4 1101.5" fill="none" stroke-width="11" stroke-linejoin="miter" stroke-linecap="butt"/>
<path d="M1079 1099.7 L1079 1142.1" fill="none" stroke-width="12" stroke-linejoin="miter" stroke-linecap="butt"/>
<path d="M1074.7 1149 L1075 1190.4" fill="none" stroke-width="12" stroke-linejoin="miter" stroke-linecap="butt"/>
<path d="M1078.5 1189.6 L1078.5 1231.9" fill="none" stroke-width="11" stroke-linejoin="miter" stroke-linecap="butt"/>
<path d="M1075.5 1238 L1076 1280" fill="none" stroke-width="11" stroke-linejoin="miter" stroke-linecap="butt"/>
<path d="M1077.5 1279 L1077.5 1322" fill="none" stroke-width="12" stroke-linejoin="miter" stroke-linecap="butt"/>
<path d="M1077 1327 L1077 1411.5" fill="none" stroke-width="12" stroke-linejoin="miter" stroke-linecap="butt"/>
<path d="M1025.4 1079.9 L1023.7 1100.6 L1022.8 1139.5" fill="none" stroke-width="13" stroke-linejoin="miter" stroke-linecap="butt"/>
<path d="M1155.9 710 L1162.8 719.5 L1164.6 731.6" fill="none" stroke-width="13" stroke-linejoin="miter" stroke-linecap="butt"/>
<polygon points="1190.1,706.5 1211.2,707.4 1209.8,732.4 1200,732.4 1199.1,750.6 1187.9,750.2 1189.1,707.4" stroke-width="1"/>
<polygon points="1203.4,643.4 1214.7,641.7 1216.4,610.6 1228.5,609.7 1229.4,614 1226.8,614 1224.7,647.7 1217.3,648.6 1219,660.7 1204.3,662.4" stroke-width="1"/>
<polygon points="1225.9,637.4 1238,636.5 1239.7,628.7 1250.1,627.9 1248.4,658.1 1236.3,659 1235.4,667.6 1224.2,667.6 1224.7,660.7" stroke-width="1"/>
<path d="M1257.9 589.9 L1254.4 628.7" fill="none" stroke-width="14" stroke-linejoin="miter" stroke-linecap="butt"/>
<path d="M1268.2 559.6 L1272.6 586.4" fill="none" stroke-width="15" stroke-linejoin="miter" stroke-linecap="butt"/>
<polygon points="1276,545.3 1301.1,545.3 1298.5,563.9 1296.8,582.9 1286.4,582.6 1285.5,577.8 1278.6,577.8 1276.5,557" stroke-width="1"/>
<polygon points="1304.5,551 1316.6,549.2 1318.4,591.6 1308,593.3 1307.6,605.4 1295,606.3 1294.2,596.8 1298.5,574.3 1304.5,573.4" stroke-width="1"/>
<path d="M1320.1 547.5 L1325.3 588.1" fill="none" stroke-width="16" stroke-linejoin="miter" stroke-linecap="butt"/>
<polygon points="1340.8,548.4 1352,549.2 1350.3,574.3 1336.5,574.3 1333.9,558.8 1340,557" stroke-width="1"/>
<polygon points="1354.6,551 1365.9,550.1 1370.2,566.5 1365,569.1 1362.4,576.9 1352,574.3" stroke-width="1"/>
<polygon points="1369.3,578.6 1378.8,577.4 1380.6,589.9 1385.8,590.7 1385.4,600.2 1371.9,601.1" stroke-width="1"/>
<polygon points="1389.2,585.5 1399.6,584.7 1407.3,596.8 1406.5,601.6 1396.1,602 1394.4,591.6 1389.2,590.7" stroke-width="1"/>
<polygon points="1408.2,589.9 1415.1,583.8 1425.8,584.7 1423.8,600.2 1413.4,601.1 1409.1,596.8" stroke-width="1"/>
<polygon points="1428.5,596.2 1441.5,591.8 1453.6,592.7 1457,604.7 1451,605.6 1449.2,618.6 1438.9,619.5 1437.2,609.1 1434.6,618.6 1423.3,617.7 1425.9,603.9" stroke-width="1"/>
<polygon points="1455.3,566.8 1465.7,567.6 1471.7,576.3 1470.8,583.2 1459.6,583.2 1452.7,574.5" stroke-width="1"/>
<polygon points="1476.9,503.7 1488.1,504.5 1486.4,519.2 1482.9,540.8 1470.8,541.7 1474.3,521" stroke-width="1"/>
<polygon points="1486.4,515.4 1497.6,513.7 1500.2,531.3 1505.4,553.8 1494.2,554.7 1491.6,538.2 1486.4,521" stroke-width="1"/>
<path d="M1503.3 600.5 L1505.8 642.8" fill="none" stroke-width="13" stroke-linejoin="miter" stroke-linecap="butt"/>
<path d="M1510.5 688 L1512.5 731.7" fill="none" stroke-width="12" stroke-linejoin="miter" stroke-linecap="butt"/>
<path d="M1514.6 779.2 L1516.3 821.6" fill="none" stroke-width="13" stroke-linejoin="miter" stroke-linecap="butt"/>
<path d="M1520.1 859.6 L1521.5 889.8" fill="none" stroke-width="13" stroke-linejoin="miter" stroke-linecap="butt"/>
<path d="M1538.8 867.4 L1539.6 895.9" fill="none" stroke-width="14" stroke-linejoin="miter" stroke-linecap="butt"/>
<path d="M1533.6 897.6 L1534.4 932.2" fill="none" stroke-width="12" stroke-linejoin="miter" stroke-linecap="butt"/>
<path d="M1525 928.7 L1524.6 971.3" fill="none" stroke-width="13" stroke-linejoin="miter" stroke-linecap="butt"/>
<path d="M1544.3 929.6 L1545.6 953" fill="none" stroke-width="16" stroke-linejoin="miter" stroke-linecap="butt"/>
<polygon points="1594.9,901.9 1601,900.2 1601.8,886.4 1612.2,885.5 1613.9,874.3 1623.4,874.3 1626,879.5 1628.6,863 1644.2,864.8 1642.4,891.6 1632.9,891.6 1632.1,903.6 1620.8,902.8 1620,898.5 1608.7,900.2 1607,911.4 1596.6,911.4" stroke-width="1"/>
<polygon points="1646.8,814.7 1657.1,814.3 1655.4,840.6 1648.5,841.5 1647.6,851.8 1637.2,851.8 1638.1,834.5 1645,833.7" stroke-width="1"/>
<polygon points="1651.1,777.5 1654.5,772.3 1665.8,772 1663.2,783.6 1650.2,783.6" stroke-width="1"/>
<polygon points="1659.7,740.4 1672.7,739.5 1670.1,755.9 1658.3,756.8" stroke-width="1"/>
<polygon points="1670.9,716.2 1680.4,716.2 1682.2,724.8 1678.7,734.3 1667.5,733.4" stroke-width="1"/>
<polygon points="1682.2,706.7 1695.1,694.6 1704.6,695.4 1711.5,702.3 1721.9,706.7 1728,701.5 1734,703.2 1732.3,713.6 1721.9,716.2 1712.4,715.3 1709.8,706.7 1697.7,704.9 1690.8,720.5 1682.2,718.8" stroke-width="1"/>
<polygon points="1731.4,685.9 1748.7,683.3 1749.6,693.7 1739.2,695.4 1736.6,711.8 1728.8,710.9" stroke-width="1"/>
<polygon points="1753,663.5 1765.1,660 1780,660 1780,676.4 1772,670.4 1760.8,669.5 1758.2,680.7 1748.7,679" stroke-width="1"/>
<path d="M1532.6 967.7 L1531.8 1000.8" fill="none" stroke-width="13" stroke-linejoin="miter" stroke-linecap="butt"/>
<path d="M1526.8 1013.8 L1529.7 1048.3" fill="none" stroke-width="12" stroke-linejoin="miter" stroke-linecap="butt"/>
<path d="M1551.3 969.1 L1551.3 994.3" fill="none" stroke-width="12" stroke-linejoin="miter" stroke-linecap="butt"/>
<polygon points="1563.5,975.6 1574.3,975.2 1574.3,1000.8 1571.4,1013.8 1567.8,1026 1559.9,1026.7 1562.8,1036.8 1562.8,1054.8 1550.9,1054.8 1549.1,1018.1 1547.7,1010.9 1554.2,1010.2 1554.2,992.2 1562.8,991.4" stroke-width="1"/>
<polygon points="1580.8,941 1590.9,940.3 1591.6,946.1 1595.2,947.5 1595.2,957.6 1588,964.8 1587.3,979.9 1575,979.9 1574.3,966.2 1565.7,965.5 1565,959 1569.3,957.6 1570,949.7 1580.1,949" stroke-width="1"/>
<path d="M1594 920.9 L1591.5 938.9" fill="none" stroke-width="14" stroke-linejoin="miter" stroke-linecap="butt"/>
<polygon points="1752.1,663.2 1759,657.1 1779.7,656.3 1784.9,658 1798.8,657.1 1800.5,663.2 1790.1,665.8 1788.4,676.1 1777.2,676.1 1777.2,668.3 1771.1,669.2 1760.7,668.3 1759,680.4 1748.6,679.5" stroke-width="1"/>
<polygon points="1795.3,626.9 1806.5,625.2 1810,642.4 1798.8,643.3" stroke-width="1"/>
<polygon points="1806.5,611.3 1811.7,607 1829.9,610.5 1833.3,624.3 1826.4,626 1824.7,631.2 1810.8,631.2 1810,620 1805.7,618.2" stroke-width="1"/>
<polygon points="1829,644.2 1839.4,643.8 1840.2,651.9 1853.2,651.1 1854.1,664.9 1857.5,665.8 1858.9,686.5 1846.3,686.5 1845.4,682.2 1835,681.3 1834.2,666.6 1825.5,666.6 1826.4,658" stroke-width="1"/>
<polygon points="1837.6,714.1 1849.7,713.3 1849.2,730.6 1837.1,731.4" stroke-width="1"/>
<path d="M1857.5 595.8 L1856.1 638.1" fill="none" stroke-width="13" stroke-linejoin="miter" stroke-linecap="butt"/>
<polygon points="1856.6,555.2 1866.1,554.3 1867,535.3 1877.4,536.2 1878.2,543.9 1885.2,543.1 1892.1,544.8 1900.7,549.1 1901.6,539.6 1911.1,540.5 1910.2,561.2 1899,562.9 1898.1,587.1 1887.7,586.3 1884.3,590.6 1873.9,589.7 1873.1,583.7 1870.5,588.9 1860.1,588.9 1857.5,569.9" stroke-width="1"/>
<polygon points="1914.5,493 1926.6,491.2 1927.5,480 1937,480 1934.4,505.9 1923.2,507.6 1921.4,524.9 1909.3,525.3 1911.1,505.9" stroke-width="1"/>
<polygon points="1925.9,469.6 1937.2,472.2 1934.6,500 1913.8,500 1914.7,492 1925.1,492" stroke-width="1"/>
<polygon points="1939.7,459.2 1950.1,455.7 1958.8,464.3 1951.8,469.6 1948.4,474.8 1937.2,473" stroke-width="1"/>
<polygon points="1969.1,413.4 1981.2,416 1976,433.3 1968.3,441 1958.8,439.3 1959.6,431.6 1966.5,429.8" stroke-width="1"/>
<polygon points="1982.9,385.8 1992.4,384 1994.2,378.8 2004.5,380.6 2002,397 1982.1,397" stroke-width="1"/>
<polygon points="2008,333.1 2014,329.6 2021,331.3 2027,337.4 2021,341.7 2015.8,343.4 2014.9,356.4 2004.5,355.5 2006.3,341.7" stroke-width="1"/>
<polygon points="2031.3,284.7 2043.4,282.9 2047.7,290.7 2041.7,293.3 2039.1,319.2 2027.9,316.6" stroke-width="1"/>
<polygon points="2055.5,251 2066.8,251.8 2063.3,278.6 2052.1,279.5 2046.9,265.7 2052.1,263.9" stroke-width="1"/>
<polygon points="2070.2,241.5 2083.2,239.7 2092.7,246.7 2091.8,252.7 2086.6,263.9 2078,265.7 2072.8,257" stroke-width="1"/>
<polygon points="2093.5,269.1 2103,266.5 2104.8,279.5 2109.1,308.9 2098.7,313.2 2094.4,281.2" stroke-width="1"/>
<polygon points="2107.4,322.7 2118.6,321.8 2119.8,333.1 2125.5,333.9 2123.8,347.7 2110.8,350.3 2109.1,338.2" stroke-width="1"/>
<polygon points="2124.6,351.2 2139.3,350.3 2135,372.8 2129.8,378.8 2122.1,376.3 2120.3,363.3 2126.4,361.6" stroke-width="1"/>
<polygon points="2139.3,378 2150.6,379.7 2148,397 2143.6,410 2135,408.3 2137.6,390.1" stroke-width="1"/>
<polygon points="2144.5,418.6 2165.3,416.9 2166.1,423.8 2175.6,424.6 2173,460.9 2156.6,460.9 2155.8,443.6 2145.4,442.8" stroke-width="1"/>
<polygon points="2176.5,458.3 2187.7,460.1 2186,500 2169.6,500 2168.7,476.5 2175.6,474.8" stroke-width="1"/>
<polygon points="2177.3,457.3 2186.6,459.7 2185.1,493.1 2189,499.3 2200.6,498.5 2202.2,518 2191.3,519.5 2192.1,546 2181.2,546.7 2180.4,519.5 2169.5,519.5 2168.7,476 2175.7,475.2" stroke-width="1"/>
<polygon points="2186.6,558.4 2196.7,558.4 2197.5,564.6 2203.7,565.4 2204.5,576.3 2211.5,577.1 2213.8,613.6 2203,613.6 2202.2,609 2193.6,608.2 2192.8,588.7 2184.3,588" stroke-width="1"/>
<polygon points="2224,559.2 2233.3,555.3 2243.4,556.9 2242.6,575.5 2237.9,575.5 2237.9,587.2 2222.4,587.2" stroke-width="1"/>
<polygon points="2241.1,508.6 2251.2,507.9 2255.8,516.4 2255.1,556.9 2244.2,556.9 2242.6,555.3 2232.5,555.3 2234.1,531.2 2240.3,530.4" stroke-width="1"/>
<polygon points="2248,427 2259.7,427.8 2256.6,470.5 2247.3,471.3 2245.7,487.7 2234.8,486.9 2236.4,462 2247.3,461.2" stroke-width="1"/>
<polygon points="2230.2,616.7 2241.1,615.2 2241.8,626.1 2230.2,627.6" stroke-width="1"/>
<polygon points="2199.1,627.6 2210,628.4 2210.7,656.4 2213.8,656.4 2220.8,653.3 2221.6,632.3 2232.5,631.5 2231,676.6 2219.3,676.6 2217.7,690 2196,690 2194.4,653.3 2199.1,653.3" stroke-width="1"/>
<path d="M2205.3 683.8 L2213.1 695.6 L2215.7 723.2 L2224.3 731.9 L2224.3 763 L2211.4 754.3 L2212.2 787.2 L2216.6 801 L2222.6 811.4 L2222.6 846 L2214 835.6 L2212.8 881.4" fill="none" stroke-width="13" stroke-linejoin="miter" stroke-linecap="butt"/>
<path d="M2213.4 916 L2213.4 943.6" fill="none" stroke-width="12" stroke-linejoin="miter" stroke-linecap="butt"/>
</g>
</g><!--endcurves-->
<!-- -10 dB line -->
<path id="ref" d="M376 401.75H2255" stroke="#000" stroke-width="12" fill="none"/>
<!-- axes box -->
<g id="axes" fill="none" stroke-width="2">
<path d="M376 1548.4H2255M376 173.7H2255" stroke="#262626"/>
<path d="M891.5 1548.4v-19.5M1416.4 1548.4v-19.5M1941.5 1548.4v-19.5M891.5 173.7v19.5M1416.4 173.7v19.5M1941.5 173.7v19.5" stroke="#262626"/>
<path d="M376 173.7V1548.4M2255 173.7V1548.4" stroke="#000"/>
<path d="M376 173.7h19.5M376 401.75h19.5M376 630.7h19.5M376 861.05h19.5M376 1090.7h19.5M376 1320.35h19.5M376 1548.4h19.5M2255 173.7h-19.5M2255 401.75h-19.5M2255 630.7h-19.5M2255 861.05h-19.5M2255 1090.7h-19.5M2255 1320.35h-19.5M2255 1548.4h-19.5" stroke="#000"/>
</g>
<!-- y tick labels -->
<g class="tk" fill="#000" text-anchor="end">
<text x="345.6" y="211">0</text>
<text x="345.6" y="440.3"><tspan font-size="80" letter-spacing="-2.5">&#8722;</tspan>10</text>
<text x="345.6" y="669.6"><tspan font-size="80" letter-spacing="-2.5">&#8722;</tspan>20</text>
<text x="345.6" y="898.8"><tspan font-size="80" letter-spacing="-2.5">&#8722;</tspan>30</text>
<text x="345.6" y="1128.1"><tspan font-size="80" letter-spacing="-2.5">&#8722;</tspan>40</text>
<text x="345.6" y="1357.4"><tspan font-size="80" letter-spacing="-2.5">&#8722;</tspan>50</text>
<text x="345.6" y="1586.7"><tspan font-size="80" letter-spacing="-2.5">&#8722;</tspan>60</text>
</g>
<!-- x tick labels -->
<g class="tk" fill="#262626" text-anchor="middle">
<text x="891.5" y="1676">5</text>
<text x="1416.4" y="1676">10</text>
<text x="1941.5" y="1676">15</text>
</g>
<!-- title & labels -->
<text class="sf" x="467" y="124" font-size="120" textLength="1702" lengthAdjust="spacingAndGlyphs" fill="#000">Transmittance, Normal Incidence</text>
<text class="sf" transform="translate(136 1366) rotate(-90)" x="0" y="0" font-size="120" textLength="1007" lengthAdjust="spacingAndGlyphs" fill="#000">Transmittance (dB)</text>
<text class="sf" x="875.5" y="1799.6" font-size="120" textLength="877" lengthAdjust="spacingAndGlyphs" fill="#262626">Frequency (GHz)</text>
<!-- legend -->
<g id="legend">
<rect x="1504.9" y="1145.2" width="702.7" height="356.9" fill="#fff" stroke="#262626" stroke-width="2.2"/>
<path d="M1521 1209.5H1696" stroke="#0000ff" stroke-width="12"/>
<path d="M1521 1323.9H1567M1612 1323.9H1657" stroke="#ff0000" stroke-width="12"/>
<path d="M1521 1437.5H1696" stroke="#000" stroke-width="12"/>
<g class="sf" font-size="98" fill="#000">
<text x="1708.2" y="1231.5">Sim.</text>
<text x="1710.2" y="1346.5">Meas.</text>
<text x="1706.3" y="1461.4" textLength="484" lengthAdjust="spacingAndGlyphs">-10 dB Line</text>
</g>
</g>
</svg>
</body></html>
